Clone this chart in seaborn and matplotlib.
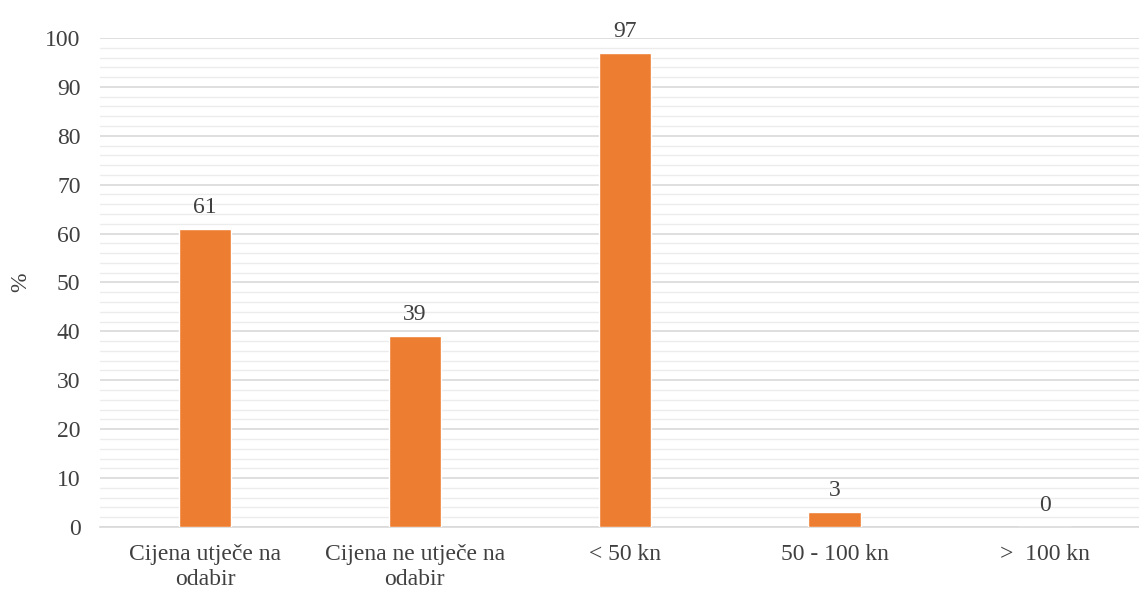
import matplotlib

matplotlib.use("Agg")
import matplotlib.pyplot as plt
import numpy as np
import pandas as pd
import seaborn as sns
from matplotlib.ticker import MultipleLocator

# --------------------------------------------------------------------- #
# Data
# --------------------------------------------------------------------- #
categories = ["Cijena utječe na\nodabir", "Cijena ne utječe na\nodabir",
              "< 50 kn", "50 - 100 kn", ">  100 kn"]
values = [61, 39, 97, 3, 0]

BAR_COLOR = "#ED7D31"
TEXT_COLOR = "#404040"
FS = 17

sns.set_style("white")
plt.rcParams["font.family"] = ["Liberation Serif", "DejaVu Serif"]

df = pd.DataFrame({"category": categories, "value": values})

fig = plt.figure(figsize=(11.39, 5.96), dpi=100)
ax = fig.add_axes([0.0878, 0.1158, 0.9122, 0.8205])

sns.barplot(data=df, x="category", y="value", color=BAR_COLOR,
            width=0.25, saturation=1, ax=ax, zorder=3)

for c in ax.containers:
    ax.bar_label(c, fmt="%d", padding=8, fontsize=FS, color=TEXT_COLOR)

ax.set_ylim(0, 100)
ax.set_xlim(-0.5, 4.45)
ax.yaxis.set_major_locator(MultipleLocator(10))
ax.yaxis.set_minor_locator(MultipleLocator(2))
ax.grid(which="major", axis="y", color="#D9D9D9", linewidth=1.2, zorder=0)
ax.grid(which="minor", axis="y", color="#ECECEC", linewidth=1.0, zorder=0)
ax.set_axisbelow(True)

for s in ["left", "right", "top"]:
    ax.spines[s].set_visible(False)
ax.spines["bottom"].set_color("#D9D9D9")
ax.spines["bottom"].set_linewidth(1.2)

ax.tick_params(axis="both", which="both", length=0, labelsize=FS,
               colors=TEXT_COLOR)
ax.tick_params(axis="y", pad=14)
ax.tick_params(axis="x", pad=12)
for lbl in ax.get_xticklabels():
    lbl.set_linespacing(1.3)
ax.set_xlabel("")
ax.set_ylabel("%", fontsize=FS, color=TEXT_COLOR, labelpad=10)

fig.savefig("out.png", dpi=100)
plt.close(fig)
